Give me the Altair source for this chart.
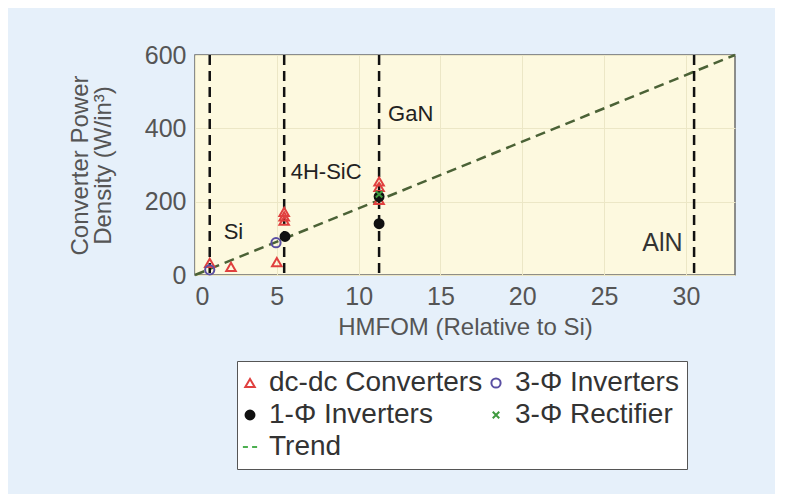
import altair as alt
import pandas as pd

# ---- data ----
categories = ["dc-dc Converters", "3-Φ Inverters", "1-Φ Inverters", "3-Φ Rectifier", "Trend"]

dcdc_x = [0.9, 2.2, 5.0, 5.45, 5.45, 5.45, 11.25, 11.25, 11.25]
dcdc_y = [33, 22, 35, 172, 160, 148, 255, 240, 205]
inv3_x = [0.9, 4.95]
inv3_y = [14, 88]
inv1_x = [5.5, 11.25, 11.25]
inv1_y = [105, 140, 214]
rect3_x = [11.25]
rect3_y = [220]

trend_x = [0, 33]
trend_y = [0, 600]

material_names = ["Si", "4H-SiC", "GaN", "AlN"]
material_hmfom = [0.9, 5.45, 11.25, 30.5]
label_x = [1.75, 5.85, 11.8, 29.8]
label_y = [118, 280, 438, 88]
label_align = ["left", "left", "left", "right"]

x_ticks = [0, 5, 10, 15, 20, 25, 30]
y_ticks = [0, 200, 400, 600]

# ---- tables ----
rows = []
for cat, xs_, ys_ in [
    (categories[0], dcdc_x, dcdc_y),
    (categories[1], inv3_x, inv3_y),
    (categories[2], inv1_x, inv1_y),
    (categories[3], rect3_x, rect3_y),
]:
    for a, b in zip(xs_, ys_):
        rows.append({"cat": cat, "x": a, "y": b})
pts = pd.DataFrame(rows)
trend = pd.DataFrame({"x": trend_x, "y": trend_y})
mats = pd.DataFrame({"name": material_names, "x": material_hmfom})
labs = pd.DataFrame({"name": material_names, "x": label_x, "y": label_y, "align": label_align})

FONT = "Liberation Sans"
xs = alt.Scale(domain=[0, 33], nice=False, zero=False)
ys = alt.Scale(domain=[0, 600], nice=False)

xax = alt.Axis(values=x_ticks, title="HMFOM (Relative to Si)", grid=True, ticks=False,
               labelPadding=9, titlePadding=6)
yax = alt.Axis(values=y_ticks, title=["Converter Power", "Density (W/in³)"], grid=True,
               ticks=False, labelPadding=9, titlePadding=29, titleLineHeight=23)

trend_dash_path = "M-1.7,0H-0.5M0.5,0H1.7"
xpath = "M-0.75,-0.75L0.75,0.75M0.75,-0.75L-0.75,0.75"

shape_scale = alt.Scale(domain=categories,
                        range=["triangle-up", "circle", "circle", xpath, trend_dash_path])
stroke_scale = alt.Scale(domain=categories,
                         range=["#e0403f", "#5a4fa3", "#111111", "#3f9a3f", "#4caf50"])
fill_scale = alt.Scale(domain=categories,
                       range=["transparent", "transparent", "#111111", "transparent", "transparent"])
size_scale = alt.Scale(domain=categories, range=[90, 70, 18, 45, 100])

legend = alt.Legend(title=None, orient="none", legendX=42, legendY=306, columns=2,
                    direction="horizontal", labelFontSize=28, labelFont=FONT, labelColor="#333",
                    labelLimit=400, symbolStrokeWidth=2, padding=8,
                    rowPadding=4, columnPadding=4, strokeColor="#555", fillColor="#ffffff",
                    symbolOffset=-9, labelOffset=5)

trend_line = alt.Chart(trend).mark_line(color="#4b6236", strokeDash=[10, 6], strokeWidth=2.5).encode(
    x=alt.X("x:Q", scale=xs, axis=xax),
    y=alt.Y("y:Q", scale=ys, axis=yax),
)

rules = alt.Chart(mats).mark_rule(color="#111", strokeDash=[10, 6], strokeWidth=2.5).encode(
    x=alt.X("x:Q", scale=xs),
)

points = alt.Chart(pts).mark_point(strokeWidth=2, filled=False, opacity=1).encode(
    x=alt.X("x:Q", scale=xs),
    y=alt.Y("y:Q", scale=ys),
    shape=alt.Shape("cat:N", scale=shape_scale, legend=legend),
    stroke=alt.Stroke("cat:N", scale=stroke_scale, legend=legend),
    fill=alt.Fill("cat:N", scale=fill_scale, legend=legend),
    size=alt.Size("cat:N", scale=size_scale, legend=legend),
)

labels_l = alt.Chart(labs).transform_filter(alt.datum.align == "left").mark_text(
    align="left", baseline="middle", fontSize=22, font=FONT, color="#222").encode(
    x=alt.X("x:Q", scale=xs), y=alt.Y("y:Q", scale=ys), text="name:N")
labels_r = alt.Chart(labs).transform_filter(alt.datum.align == "right").mark_text(
    align="right", baseline="middle", fontSize=25, font=FONT, color="#333").encode(
    x=alt.X("x:Q", scale=xs), y=alt.Y("y:Q", scale=ys), text="name:N")

chart = alt.layer(trend_line, rules, points, labels_l, labels_r).properties(
    width=540, height=220,
    padding={"left": 60, "top": 35, "right": 35, "bottom": 24},
).configure(
    background="#e6f0fa",
    font=FONT,
).configure_view(
    fill="#fdf9df", stroke="#6b6b6b", strokeWidth=1.5,
).configure_axis(
    labelFontSize=25, labelColor="#555", titleFontSize=24, titleColor="#555",
    titleFontWeight="normal", labelFont=FONT, titleFont=FONT,
    gridColor="#ece7c6", gridWidth=1, domain=False,
).configure_legend(
    labelFont=FONT,
)

chart.save("out.html", embed_options={"renderer": "svg", "actions": False})
